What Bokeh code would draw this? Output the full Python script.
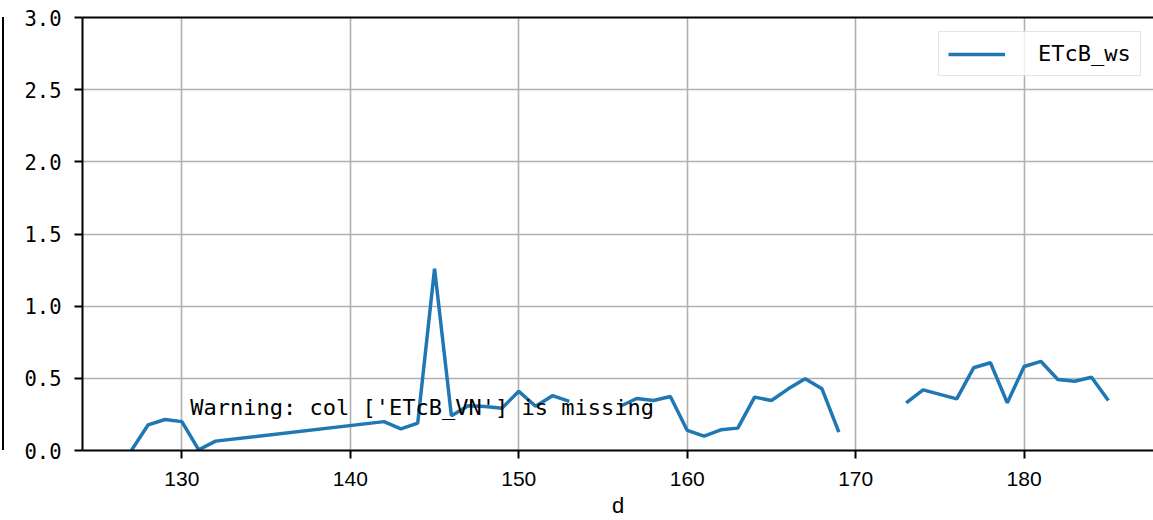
import math
from bokeh.plotting import figure
from bokeh.models import (Range1d, FixedTicker, LinearAxis, Label, Div,
                          PrintfTickFormatter)
from bokeh.layouts import row
from bokeh.embed import file_html
from bokeh.resources import INLINE

nan = float("nan")

days = [127, 128, 129, 130, 131, 132,
        142, 143, 144, 145, 146, 147, 148, 149, 150, 151, 152, 153, 154, 155,
        156, 157, 158, 159, 160, 161, 162, 163, 164, 165, 166, 167, 168, 169,
        170, 171, 172,
        173, 174,
        176, 177, 178, 179, 180, 181, 182, 183, 184, 185]
etcb_ws = [0.0, 0.178, 0.215, 0.2, 0.005, 0.065,
           0.2, 0.15, 0.19, 1.26, 0.24, 0.31, 0.305, 0.293, 0.41, 0.307, 0.38, 0.34, nan, nan,
           0.305, 0.36, 0.346, 0.374, 0.139, 0.1, 0.143, 0.155, 0.37, 0.346, 0.427, 0.497, 0.427, 0.127,
           nan, nan, nan,
           0.33, 0.42,
           0.358, 0.573, 0.608, 0.33, 0.582, 0.617, 0.492, 0.48, 0.508, 0.346]

x_ticks = [130, 140, 150, 160, 170, 180]
y_ticks = [0.0, 0.5, 1.0, 1.5, 2.0, 2.5, 3.0]
series_name = "ETcB_ws"
x_label = "d"
warning_text = "Warning: col ['ETcB_VN'] is missing"

p = figure(width=1149, height=520, output_backend="svg", toolbar_location=None,
           x_range=Range1d(124.1, 187.68), y_range=Range1d(0, 3),
           min_border_left=78, min_border_right=0, min_border_top=17,
           min_border_bottom=0)
p.outline_line_color = None
p.background_fill_color = "white"
p.border_fill_color = "white"

p.line(days, etcb_ws, line_color="#1f77b4", line_width=3.5, legend_label=series_name)

grid_color = "#b0b0b0"
for g in (p.xgrid, p.ygrid):
    g.grid_line_color = grid_color
    g.grid_line_width = 1.6

xa = p.xaxis[0]
xa.ticker = FixedTicker(ticks=x_ticks)
xa.axis_label = x_label
xa.axis_label_text_font = "Liberation Sans"
xa.axis_label_text_font_size = "22px"
xa.axis_label_text_font_style = "normal"
xa.axis_label_standoff = 4
xa.major_label_text_font = "Liberation Sans"
xa.major_label_text_font_size = "21px"
xa.major_label_standoff = 13

ya = p.yaxis[0]
ya.ticker = FixedTicker(ticks=y_ticks)
ya.formatter = PrintfTickFormatter(format="%.1f")
ya.major_label_text_font = "DejaVu Sans Mono"
ya.major_label_text_font_size = "20.5px"
ya.major_label_standoff = 13

for a in (xa, ya):
    a.axis_line_color = "black"
    a.axis_line_width = 2
    a.major_tick_line_color = "black"
    a.major_tick_line_width = 2
    a.major_tick_out = 8
    a.major_tick_in = 0
    a.minor_tick_out = 0
    a.minor_tick_in = 0
    a.major_label_text_color = "black"
    a.axis_label_text_color = "black"

top = LinearAxis(ticker=FixedTicker(ticks=[]), major_label_text_font_size="0px",
                 major_tick_out=0, major_tick_in=0, minor_tick_out=0, minor_tick_in=0,
                 axis_line_color="black", axis_line_width=2)
p.add_layout(top, "above")

p.add_layout(Label(x=130.5, y=0.3, text=warning_text,
                   text_font="DejaVu Sans Mono", text_font_size="22px",
                   text_color="black", text_baseline="alphabetic"))

lg = p.legend[0]
lg.location = (856, 374)
lg.margin = 0
lg.padding = 9
lg.spacing = 0
lg.glyph_width = 57
lg.glyph_height = 24
lg.label_standoff = 33
lg.label_text_font = "DejaVu Sans Mono"
lg.label_text_font_size = "22px"
lg.label_text_color = "black"
lg.border_line_color = "#cccccc"
lg.border_line_width = 1.5
lg.background_fill_alpha = 0.8

edge = Div(text="", width=2, height=433, margin=(17, 0, 0, 2),
           styles={"background-color": "black"})

layout = row(edge, p)
open("out.html", "w").write(file_html(layout, INLINE))
